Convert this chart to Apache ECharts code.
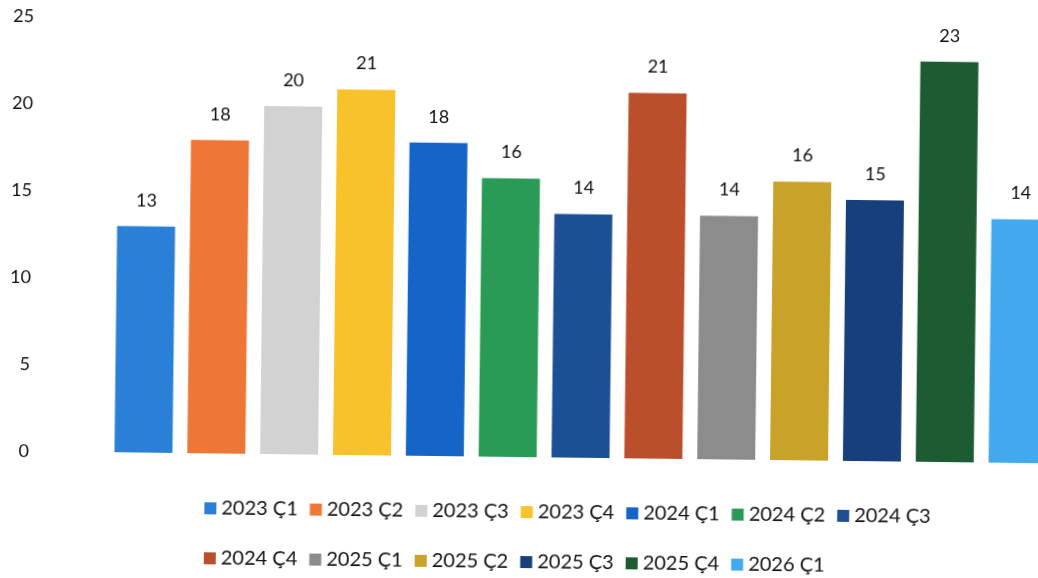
<!DOCTYPE html>
<html><head><meta charset="utf-8">
<script src="https://cdn.jsdelivr.net/npm/echarts@6/dist/echarts.min.js"></script>
<style>
html,body{margin:0;padding:0;background:#fff;overflow:hidden;width:1038px;height:578px}
#c{width:1126px;height:578px;transform:rotate(0.68deg);transform-origin:519px 289px}
</style>
</head><body><div id="c"></div>
<script>
const seriesNames = ['2023 Ç1','2023 Ç2','2023 Ç3','2023 Ç4','2024 Ç1','2024 Ç2','2024 Ç3','2024 Ç4','2025 Ç1','2025 Ç2','2025 Ç3','2025 Ç4','2026 Ç1'];
const values = [13,18,20,21,18,16,14,21,14,16,15,23,14];
const colors = ['#2a80d6','#ee7637','#d2d2d2','#f8c22d','#1565c8','#2a9a57','#1d4f94','#bb4f2c','#8c8c8c','#c9a22a','#173f7c','#1d5c33','#43a9ef'];
const yTicks = [0,5,10,15,20,25];

const FONT = 'Lato';
const TXT = '#111';
const chart = echarts.init(document.getElementById('c'), null, {renderer:'canvas'});
const series = seriesNames.map((n,i)=>({
  type:'bar', name:n, data:[values[i]],
  barWidth:58, barGap:'25.6%',
  itemStyle:{color:colors[i]},
  label:{show:true, position:'top', distance:17, fontSize:18, fontFamily:FONT, color:TXT},
  animation:false
}));
const legendBase = {
  orient:'horizontal', left:207, padding:0, itemWidth:12, itemHeight:12, itemGap:12, icon:'rect',
  textStyle:{fontSize:20, fontFamily:FONT, color:TXT}, selectedMode:false
};
chart.setOption({
  animation:false,
  backgroundColor:'#fff',
  grid:{left:39, right:0, top:22, bottom:121},
  xAxis:{type:'category', data:[''], axisLine:{show:false}, axisTick:{show:false}, axisLabel:{show:false}},
  yAxis:{type:'value', min:yTicks[0], max:yTicks[yTicks.length-1], interval:yTicks[1]-yTicks[0],
    splitLine:{show:false}, axisLine:{show:false}, axisTick:{show:false},
    axisLabel:{fontSize:18, fontFamily:FONT, color:TXT, margin:8}},
  legend:[
    Object.assign({}, legendBase, {top:502, data:seriesNames.slice(0,7)}),
    Object.assign({}, legendBase, {top:552, data:seriesNames.slice(7)})
  ],
  series:series
});
</script>
</body></html>
